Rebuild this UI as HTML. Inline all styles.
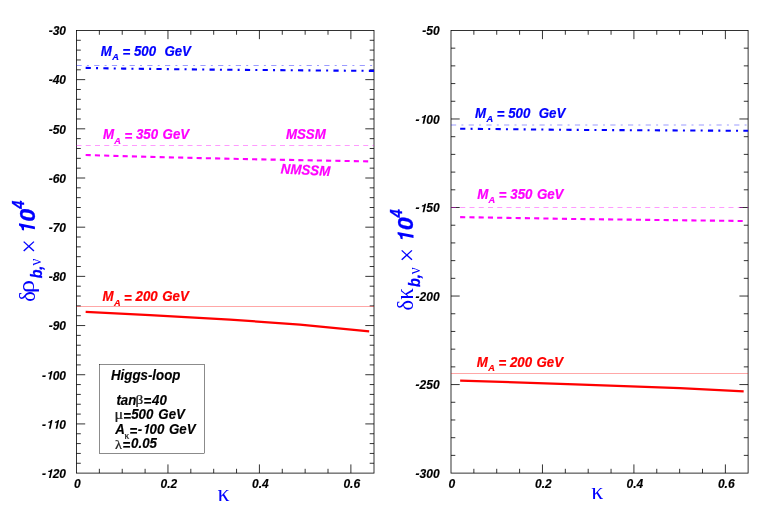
<!DOCTYPE html>
<html><head><meta charset="utf-8"><title>chart</title>
<style>
html,body{margin:0;padding:0;background:#fff;}
svg{display:block;will-change:transform;}
text{font-family:"Liberation Sans",sans-serif;}
.tk{font-size:12px;font-weight:bold;font-style:italic;fill:#000;stroke:#000;stroke-width:0.15px;}
.lb{font-size:13.3px;font-weight:bold;font-style:italic;}
.lb text{font-size:13.3px;font-weight:bold;font-style:italic;}
.bi{font-weight:bold;font-style:italic;}
.sy{font-family:"Liberation Serif",serif;font-weight:normal;font-style:normal;}
</style></head>
<body>
<svg width="763" height="516" viewBox="0 0 763 516">
<rect width="763" height="516" fill="#fff"/>
<defs>
<clipPath id="c1"><rect x="76.5" y="30.45" width="297.5" height="442.65000000000003"/></clipPath>
<clipPath id="c2"><rect x="451.0" y="30.45" width="297.1" height="442.65000000000003"/></clipPath>
</defs>
<g shape-rendering="auto">
<rect x="76.50" y="30.45" width="297.50" height="442.65" fill="none" stroke="#000" stroke-width="0.8"/>
<text class="tk" x="77.40" y="487.6" text-anchor="middle">0</text>
<line x1="99.37" y1="30.45" x2="99.37" y2="34.75" stroke="#000" stroke-width="0.8" />
<line x1="99.37" y1="473.10" x2="99.37" y2="468.80" stroke="#000" stroke-width="0.8" />
<line x1="122.23" y1="30.45" x2="122.23" y2="34.75" stroke="#000" stroke-width="0.8" />
<line x1="122.23" y1="473.10" x2="122.23" y2="468.80" stroke="#000" stroke-width="0.8" />
<line x1="145.10" y1="30.45" x2="145.10" y2="34.75" stroke="#000" stroke-width="0.8" />
<line x1="145.10" y1="473.10" x2="145.10" y2="468.80" stroke="#000" stroke-width="0.8" />
<line x1="167.96" y1="30.45" x2="167.96" y2="39.15" stroke="#000" stroke-width="0.8" />
<line x1="167.96" y1="473.10" x2="167.96" y2="464.40" stroke="#000" stroke-width="0.8" />
<text class="tk" x="168.86" y="487.6" text-anchor="middle">0.2</text>
<line x1="190.82" y1="30.45" x2="190.82" y2="34.75" stroke="#000" stroke-width="0.8" />
<line x1="190.82" y1="473.10" x2="190.82" y2="468.80" stroke="#000" stroke-width="0.8" />
<line x1="213.69" y1="30.45" x2="213.69" y2="34.75" stroke="#000" stroke-width="0.8" />
<line x1="213.69" y1="473.10" x2="213.69" y2="468.80" stroke="#000" stroke-width="0.8" />
<line x1="236.56" y1="30.45" x2="236.56" y2="34.75" stroke="#000" stroke-width="0.8" />
<line x1="236.56" y1="473.10" x2="236.56" y2="468.80" stroke="#000" stroke-width="0.8" />
<line x1="259.42" y1="30.45" x2="259.42" y2="39.15" stroke="#000" stroke-width="0.8" />
<line x1="259.42" y1="473.10" x2="259.42" y2="464.40" stroke="#000" stroke-width="0.8" />
<text class="tk" x="260.32" y="487.6" text-anchor="middle">0.4</text>
<line x1="282.28" y1="30.45" x2="282.28" y2="34.75" stroke="#000" stroke-width="0.8" />
<line x1="282.28" y1="473.10" x2="282.28" y2="468.80" stroke="#000" stroke-width="0.8" />
<line x1="305.15" y1="30.45" x2="305.15" y2="34.75" stroke="#000" stroke-width="0.8" />
<line x1="305.15" y1="473.10" x2="305.15" y2="468.80" stroke="#000" stroke-width="0.8" />
<line x1="328.01" y1="30.45" x2="328.01" y2="34.75" stroke="#000" stroke-width="0.8" />
<line x1="328.01" y1="473.10" x2="328.01" y2="468.80" stroke="#000" stroke-width="0.8" />
<line x1="350.88" y1="30.45" x2="350.88" y2="39.15" stroke="#000" stroke-width="0.8" />
<line x1="350.88" y1="473.10" x2="350.88" y2="464.40" stroke="#000" stroke-width="0.8" />
<text class="tk" x="351.78" y="487.6" text-anchor="middle">0.6</text>
<text class="tk" x="66.00" y="35.25" text-anchor="end">-30</text>
<line x1="76.50" y1="40.29" x2="80.80" y2="40.29" stroke="#000" stroke-width="0.8" />
<line x1="374.00" y1="40.29" x2="369.70" y2="40.29" stroke="#000" stroke-width="0.8" />
<line x1="76.50" y1="50.12" x2="80.80" y2="50.12" stroke="#000" stroke-width="0.8" />
<line x1="374.00" y1="50.12" x2="369.70" y2="50.12" stroke="#000" stroke-width="0.8" />
<line x1="76.50" y1="59.96" x2="80.80" y2="59.96" stroke="#000" stroke-width="0.8" />
<line x1="374.00" y1="59.96" x2="369.70" y2="59.96" stroke="#000" stroke-width="0.8" />
<line x1="76.50" y1="69.80" x2="80.80" y2="69.80" stroke="#000" stroke-width="0.8" />
<line x1="374.00" y1="69.80" x2="369.70" y2="69.80" stroke="#000" stroke-width="0.8" />
<line x1="76.50" y1="79.63" x2="85.20" y2="79.63" stroke="#000" stroke-width="0.8" />
<line x1="374.00" y1="79.63" x2="365.30" y2="79.63" stroke="#000" stroke-width="0.8" />
<text class="tk" x="66.00" y="84.43" text-anchor="end">-40</text>
<line x1="76.50" y1="89.47" x2="80.80" y2="89.47" stroke="#000" stroke-width="0.8" />
<line x1="374.00" y1="89.47" x2="369.70" y2="89.47" stroke="#000" stroke-width="0.8" />
<line x1="76.50" y1="99.31" x2="80.80" y2="99.31" stroke="#000" stroke-width="0.8" />
<line x1="374.00" y1="99.31" x2="369.70" y2="99.31" stroke="#000" stroke-width="0.8" />
<line x1="76.50" y1="109.14" x2="80.80" y2="109.14" stroke="#000" stroke-width="0.8" />
<line x1="374.00" y1="109.14" x2="369.70" y2="109.14" stroke="#000" stroke-width="0.8" />
<line x1="76.50" y1="118.98" x2="80.80" y2="118.98" stroke="#000" stroke-width="0.8" />
<line x1="374.00" y1="118.98" x2="369.70" y2="118.98" stroke="#000" stroke-width="0.8" />
<line x1="76.50" y1="128.82" x2="85.20" y2="128.82" stroke="#000" stroke-width="0.8" />
<line x1="374.00" y1="128.82" x2="365.30" y2="128.82" stroke="#000" stroke-width="0.8" />
<text class="tk" x="66.00" y="133.62" text-anchor="end">-50</text>
<line x1="76.50" y1="138.65" x2="80.80" y2="138.65" stroke="#000" stroke-width="0.8" />
<line x1="374.00" y1="138.65" x2="369.70" y2="138.65" stroke="#000" stroke-width="0.8" />
<line x1="76.50" y1="148.49" x2="80.80" y2="148.49" stroke="#000" stroke-width="0.8" />
<line x1="374.00" y1="148.49" x2="369.70" y2="148.49" stroke="#000" stroke-width="0.8" />
<line x1="76.50" y1="158.33" x2="80.80" y2="158.33" stroke="#000" stroke-width="0.8" />
<line x1="374.00" y1="158.33" x2="369.70" y2="158.33" stroke="#000" stroke-width="0.8" />
<line x1="76.50" y1="168.16" x2="80.80" y2="168.16" stroke="#000" stroke-width="0.8" />
<line x1="374.00" y1="168.16" x2="369.70" y2="168.16" stroke="#000" stroke-width="0.8" />
<line x1="76.50" y1="178.00" x2="85.20" y2="178.00" stroke="#000" stroke-width="0.8" />
<line x1="374.00" y1="178.00" x2="365.30" y2="178.00" stroke="#000" stroke-width="0.8" />
<text class="tk" x="66.00" y="182.80" text-anchor="end">-60</text>
<line x1="76.50" y1="187.84" x2="80.80" y2="187.84" stroke="#000" stroke-width="0.8" />
<line x1="374.00" y1="187.84" x2="369.70" y2="187.84" stroke="#000" stroke-width="0.8" />
<line x1="76.50" y1="197.67" x2="80.80" y2="197.67" stroke="#000" stroke-width="0.8" />
<line x1="374.00" y1="197.67" x2="369.70" y2="197.67" stroke="#000" stroke-width="0.8" />
<line x1="76.50" y1="207.51" x2="80.80" y2="207.51" stroke="#000" stroke-width="0.8" />
<line x1="374.00" y1="207.51" x2="369.70" y2="207.51" stroke="#000" stroke-width="0.8" />
<line x1="76.50" y1="217.35" x2="80.80" y2="217.35" stroke="#000" stroke-width="0.8" />
<line x1="374.00" y1="217.35" x2="369.70" y2="217.35" stroke="#000" stroke-width="0.8" />
<line x1="76.50" y1="227.18" x2="85.20" y2="227.18" stroke="#000" stroke-width="0.8" />
<line x1="374.00" y1="227.18" x2="365.30" y2="227.18" stroke="#000" stroke-width="0.8" />
<text class="tk" x="66.00" y="231.98" text-anchor="end">-70</text>
<line x1="76.50" y1="237.02" x2="80.80" y2="237.02" stroke="#000" stroke-width="0.8" />
<line x1="374.00" y1="237.02" x2="369.70" y2="237.02" stroke="#000" stroke-width="0.8" />
<line x1="76.50" y1="246.86" x2="80.80" y2="246.86" stroke="#000" stroke-width="0.8" />
<line x1="374.00" y1="246.86" x2="369.70" y2="246.86" stroke="#000" stroke-width="0.8" />
<line x1="76.50" y1="256.69" x2="80.80" y2="256.69" stroke="#000" stroke-width="0.8" />
<line x1="374.00" y1="256.69" x2="369.70" y2="256.69" stroke="#000" stroke-width="0.8" />
<line x1="76.50" y1="266.53" x2="80.80" y2="266.53" stroke="#000" stroke-width="0.8" />
<line x1="374.00" y1="266.53" x2="369.70" y2="266.53" stroke="#000" stroke-width="0.8" />
<line x1="76.50" y1="276.37" x2="85.20" y2="276.37" stroke="#000" stroke-width="0.8" />
<line x1="374.00" y1="276.37" x2="365.30" y2="276.37" stroke="#000" stroke-width="0.8" />
<text class="tk" x="66.00" y="281.17" text-anchor="end">-80</text>
<line x1="76.50" y1="286.20" x2="80.80" y2="286.20" stroke="#000" stroke-width="0.8" />
<line x1="374.00" y1="286.20" x2="369.70" y2="286.20" stroke="#000" stroke-width="0.8" />
<line x1="76.50" y1="296.04" x2="80.80" y2="296.04" stroke="#000" stroke-width="0.8" />
<line x1="374.00" y1="296.04" x2="369.70" y2="296.04" stroke="#000" stroke-width="0.8" />
<line x1="76.50" y1="305.88" x2="80.80" y2="305.88" stroke="#000" stroke-width="0.8" />
<line x1="374.00" y1="305.88" x2="369.70" y2="305.88" stroke="#000" stroke-width="0.8" />
<line x1="76.50" y1="315.71" x2="80.80" y2="315.71" stroke="#000" stroke-width="0.8" />
<line x1="374.00" y1="315.71" x2="369.70" y2="315.71" stroke="#000" stroke-width="0.8" />
<line x1="76.50" y1="325.55" x2="85.20" y2="325.55" stroke="#000" stroke-width="0.8" />
<line x1="374.00" y1="325.55" x2="365.30" y2="325.55" stroke="#000" stroke-width="0.8" />
<text class="tk" x="66.00" y="330.35" text-anchor="end">-90</text>
<line x1="76.50" y1="335.39" x2="80.80" y2="335.39" stroke="#000" stroke-width="0.8" />
<line x1="374.00" y1="335.39" x2="369.70" y2="335.39" stroke="#000" stroke-width="0.8" />
<line x1="76.50" y1="345.22" x2="80.80" y2="345.22" stroke="#000" stroke-width="0.8" />
<line x1="374.00" y1="345.22" x2="369.70" y2="345.22" stroke="#000" stroke-width="0.8" />
<line x1="76.50" y1="355.06" x2="80.80" y2="355.06" stroke="#000" stroke-width="0.8" />
<line x1="374.00" y1="355.06" x2="369.70" y2="355.06" stroke="#000" stroke-width="0.8" />
<line x1="76.50" y1="364.90" x2="80.80" y2="364.90" stroke="#000" stroke-width="0.8" />
<line x1="374.00" y1="364.90" x2="369.70" y2="364.90" stroke="#000" stroke-width="0.8" />
<line x1="76.50" y1="374.73" x2="85.20" y2="374.73" stroke="#000" stroke-width="0.8" />
<line x1="374.00" y1="374.73" x2="365.30" y2="374.73" stroke="#000" stroke-width="0.8" />
<text class="tk" x="41.99" y="379.53">-</text>
<path d="M48.93,379.58 L50.65,379.58 L52.52,370.88 L51.14,370.88 C50.76,371.97 49.79,372.44 48.41,372.48 L48.16,373.63 L50.21,373.63 Z" fill="#000"/>
<text class="tk" x="52.66" y="379.53">0</text>
<text class="tk" x="59.33" y="379.53">0</text>
<line x1="76.50" y1="384.57" x2="80.80" y2="384.57" stroke="#000" stroke-width="0.8" />
<line x1="374.00" y1="384.57" x2="369.70" y2="384.57" stroke="#000" stroke-width="0.8" />
<line x1="76.50" y1="394.41" x2="80.80" y2="394.41" stroke="#000" stroke-width="0.8" />
<line x1="374.00" y1="394.41" x2="369.70" y2="394.41" stroke="#000" stroke-width="0.8" />
<line x1="76.50" y1="404.24" x2="80.80" y2="404.24" stroke="#000" stroke-width="0.8" />
<line x1="374.00" y1="404.24" x2="369.70" y2="404.24" stroke="#000" stroke-width="0.8" />
<line x1="76.50" y1="414.08" x2="80.80" y2="414.08" stroke="#000" stroke-width="0.8" />
<line x1="374.00" y1="414.08" x2="369.70" y2="414.08" stroke="#000" stroke-width="0.8" />
<line x1="76.50" y1="423.92" x2="85.20" y2="423.92" stroke="#000" stroke-width="0.8" />
<line x1="374.00" y1="423.92" x2="365.30" y2="423.92" stroke="#000" stroke-width="0.8" />
<text class="tk" x="41.99" y="428.72">-</text>
<path d="M48.93,428.77 L50.65,428.77 L52.52,420.06 L51.14,420.06 C50.76,421.15 49.79,421.62 48.41,421.67 L48.16,422.81 L50.21,422.81 Z" fill="#000"/>
<path d="M55.60,428.77 L57.32,428.77 L59.19,420.06 L57.81,420.06 C57.43,421.15 56.46,421.62 55.08,421.67 L54.83,422.81 L56.88,422.81 Z" fill="#000"/>
<text class="tk" x="59.33" y="428.72">0</text>
<line x1="76.50" y1="433.75" x2="80.80" y2="433.75" stroke="#000" stroke-width="0.8" />
<line x1="374.00" y1="433.75" x2="369.70" y2="433.75" stroke="#000" stroke-width="0.8" />
<line x1="76.50" y1="443.59" x2="80.80" y2="443.59" stroke="#000" stroke-width="0.8" />
<line x1="374.00" y1="443.59" x2="369.70" y2="443.59" stroke="#000" stroke-width="0.8" />
<line x1="76.50" y1="453.43" x2="80.80" y2="453.43" stroke="#000" stroke-width="0.8" />
<line x1="374.00" y1="453.43" x2="369.70" y2="453.43" stroke="#000" stroke-width="0.8" />
<line x1="76.50" y1="463.26" x2="80.80" y2="463.26" stroke="#000" stroke-width="0.8" />
<line x1="374.00" y1="463.26" x2="369.70" y2="463.26" stroke="#000" stroke-width="0.8" />
<text class="tk" x="41.99" y="477.90">-</text>
<path d="M48.93,477.95 L50.65,477.95 L52.52,469.24 L51.14,469.24 C50.76,470.34 49.79,470.80 48.41,470.85 L48.16,471.99 L50.21,471.99 Z" fill="#000"/>
<text class="tk" x="52.66" y="477.90">2</text>
<text class="tk" x="59.33" y="477.90">0</text>
<rect x="451.00" y="30.45" width="297.10" height="442.65" fill="none" stroke="#000" stroke-width="0.8"/>
<text class="tk" x="451.90" y="487.6" text-anchor="middle">0</text>
<line x1="473.87" y1="30.45" x2="473.87" y2="34.75" stroke="#000" stroke-width="0.8" />
<line x1="473.87" y1="473.10" x2="473.87" y2="468.80" stroke="#000" stroke-width="0.8" />
<line x1="496.73" y1="30.45" x2="496.73" y2="34.75" stroke="#000" stroke-width="0.8" />
<line x1="496.73" y1="473.10" x2="496.73" y2="468.80" stroke="#000" stroke-width="0.8" />
<line x1="519.60" y1="30.45" x2="519.60" y2="34.75" stroke="#000" stroke-width="0.8" />
<line x1="519.60" y1="473.10" x2="519.60" y2="468.80" stroke="#000" stroke-width="0.8" />
<line x1="542.46" y1="30.45" x2="542.46" y2="39.15" stroke="#000" stroke-width="0.8" />
<line x1="542.46" y1="473.10" x2="542.46" y2="464.40" stroke="#000" stroke-width="0.8" />
<text class="tk" x="543.36" y="487.6" text-anchor="middle">0.2</text>
<line x1="565.33" y1="30.45" x2="565.33" y2="34.75" stroke="#000" stroke-width="0.8" />
<line x1="565.33" y1="473.10" x2="565.33" y2="468.80" stroke="#000" stroke-width="0.8" />
<line x1="588.19" y1="30.45" x2="588.19" y2="34.75" stroke="#000" stroke-width="0.8" />
<line x1="588.19" y1="473.10" x2="588.19" y2="468.80" stroke="#000" stroke-width="0.8" />
<line x1="611.06" y1="30.45" x2="611.06" y2="34.75" stroke="#000" stroke-width="0.8" />
<line x1="611.06" y1="473.10" x2="611.06" y2="468.80" stroke="#000" stroke-width="0.8" />
<line x1="633.92" y1="30.45" x2="633.92" y2="39.15" stroke="#000" stroke-width="0.8" />
<line x1="633.92" y1="473.10" x2="633.92" y2="464.40" stroke="#000" stroke-width="0.8" />
<text class="tk" x="634.82" y="487.6" text-anchor="middle">0.4</text>
<line x1="656.78" y1="30.45" x2="656.78" y2="34.75" stroke="#000" stroke-width="0.8" />
<line x1="656.78" y1="473.10" x2="656.78" y2="468.80" stroke="#000" stroke-width="0.8" />
<line x1="679.65" y1="30.45" x2="679.65" y2="34.75" stroke="#000" stroke-width="0.8" />
<line x1="679.65" y1="473.10" x2="679.65" y2="468.80" stroke="#000" stroke-width="0.8" />
<line x1="702.51" y1="30.45" x2="702.51" y2="34.75" stroke="#000" stroke-width="0.8" />
<line x1="702.51" y1="473.10" x2="702.51" y2="468.80" stroke="#000" stroke-width="0.8" />
<line x1="725.38" y1="30.45" x2="725.38" y2="39.15" stroke="#000" stroke-width="0.8" />
<line x1="725.38" y1="473.10" x2="725.38" y2="464.40" stroke="#000" stroke-width="0.8" />
<text class="tk" x="726.28" y="487.6" text-anchor="middle">0.6</text>
<text class="tk" x="439.60" y="35.25" text-anchor="end">-50</text>
<line x1="451.00" y1="48.16" x2="455.30" y2="48.16" stroke="#000" stroke-width="0.8" />
<line x1="748.10" y1="48.16" x2="743.80" y2="48.16" stroke="#000" stroke-width="0.8" />
<line x1="451.00" y1="65.86" x2="455.30" y2="65.86" stroke="#000" stroke-width="0.8" />
<line x1="748.10" y1="65.86" x2="743.80" y2="65.86" stroke="#000" stroke-width="0.8" />
<line x1="451.00" y1="83.57" x2="455.30" y2="83.57" stroke="#000" stroke-width="0.8" />
<line x1="748.10" y1="83.57" x2="743.80" y2="83.57" stroke="#000" stroke-width="0.8" />
<line x1="451.00" y1="101.27" x2="455.30" y2="101.27" stroke="#000" stroke-width="0.8" />
<line x1="748.10" y1="101.27" x2="743.80" y2="101.27" stroke="#000" stroke-width="0.8" />
<line x1="451.00" y1="118.98" x2="459.70" y2="118.98" stroke="#000" stroke-width="0.8" />
<line x1="748.10" y1="118.98" x2="739.40" y2="118.98" stroke="#000" stroke-width="0.8" />
<text class="tk" x="415.59" y="123.78">-</text>
<path d="M422.53,123.83 L424.25,123.83 L426.12,115.12 L424.74,115.12 C424.36,116.22 423.39,116.68 422.01,116.73 L421.76,117.87 L423.81,117.87 Z" fill="#000"/>
<text class="tk" x="426.26" y="123.78">0</text>
<text class="tk" x="432.93" y="123.78">0</text>
<line x1="451.00" y1="136.69" x2="455.30" y2="136.69" stroke="#000" stroke-width="0.8" />
<line x1="748.10" y1="136.69" x2="743.80" y2="136.69" stroke="#000" stroke-width="0.8" />
<line x1="451.00" y1="154.39" x2="455.30" y2="154.39" stroke="#000" stroke-width="0.8" />
<line x1="748.10" y1="154.39" x2="743.80" y2="154.39" stroke="#000" stroke-width="0.8" />
<line x1="451.00" y1="172.10" x2="455.30" y2="172.10" stroke="#000" stroke-width="0.8" />
<line x1="748.10" y1="172.10" x2="743.80" y2="172.10" stroke="#000" stroke-width="0.8" />
<line x1="451.00" y1="189.80" x2="455.30" y2="189.80" stroke="#000" stroke-width="0.8" />
<line x1="748.10" y1="189.80" x2="743.80" y2="189.80" stroke="#000" stroke-width="0.8" />
<line x1="451.00" y1="207.51" x2="459.70" y2="207.51" stroke="#000" stroke-width="0.8" />
<line x1="748.10" y1="207.51" x2="739.40" y2="207.51" stroke="#000" stroke-width="0.8" />
<text class="tk" x="415.59" y="212.31">-</text>
<path d="M422.53,212.36 L424.25,212.36 L426.12,203.65 L424.74,203.65 C424.36,204.75 423.39,205.21 422.01,205.26 L421.76,206.40 L423.81,206.40 Z" fill="#000"/>
<text class="tk" x="426.26" y="212.31">5</text>
<text class="tk" x="432.93" y="212.31">0</text>
<line x1="451.00" y1="225.22" x2="455.30" y2="225.22" stroke="#000" stroke-width="0.8" />
<line x1="748.10" y1="225.22" x2="743.80" y2="225.22" stroke="#000" stroke-width="0.8" />
<line x1="451.00" y1="242.92" x2="455.30" y2="242.92" stroke="#000" stroke-width="0.8" />
<line x1="748.10" y1="242.92" x2="743.80" y2="242.92" stroke="#000" stroke-width="0.8" />
<line x1="451.00" y1="260.63" x2="455.30" y2="260.63" stroke="#000" stroke-width="0.8" />
<line x1="748.10" y1="260.63" x2="743.80" y2="260.63" stroke="#000" stroke-width="0.8" />
<line x1="451.00" y1="278.33" x2="455.30" y2="278.33" stroke="#000" stroke-width="0.8" />
<line x1="748.10" y1="278.33" x2="743.80" y2="278.33" stroke="#000" stroke-width="0.8" />
<line x1="451.00" y1="296.04" x2="459.70" y2="296.04" stroke="#000" stroke-width="0.8" />
<line x1="748.10" y1="296.04" x2="739.40" y2="296.04" stroke="#000" stroke-width="0.8" />
<text class="tk" x="439.60" y="300.84" text-anchor="end">-200</text>
<line x1="451.00" y1="313.75" x2="455.30" y2="313.75" stroke="#000" stroke-width="0.8" />
<line x1="748.10" y1="313.75" x2="743.80" y2="313.75" stroke="#000" stroke-width="0.8" />
<line x1="451.00" y1="331.45" x2="455.30" y2="331.45" stroke="#000" stroke-width="0.8" />
<line x1="748.10" y1="331.45" x2="743.80" y2="331.45" stroke="#000" stroke-width="0.8" />
<line x1="451.00" y1="349.16" x2="455.30" y2="349.16" stroke="#000" stroke-width="0.8" />
<line x1="748.10" y1="349.16" x2="743.80" y2="349.16" stroke="#000" stroke-width="0.8" />
<line x1="451.00" y1="366.86" x2="455.30" y2="366.86" stroke="#000" stroke-width="0.8" />
<line x1="748.10" y1="366.86" x2="743.80" y2="366.86" stroke="#000" stroke-width="0.8" />
<line x1="451.00" y1="384.57" x2="459.70" y2="384.57" stroke="#000" stroke-width="0.8" />
<line x1="748.10" y1="384.57" x2="739.40" y2="384.57" stroke="#000" stroke-width="0.8" />
<text class="tk" x="439.60" y="389.37" text-anchor="end">-250</text>
<line x1="451.00" y1="402.28" x2="455.30" y2="402.28" stroke="#000" stroke-width="0.8" />
<line x1="748.10" y1="402.28" x2="743.80" y2="402.28" stroke="#000" stroke-width="0.8" />
<line x1="451.00" y1="419.98" x2="455.30" y2="419.98" stroke="#000" stroke-width="0.8" />
<line x1="748.10" y1="419.98" x2="743.80" y2="419.98" stroke="#000" stroke-width="0.8" />
<line x1="451.00" y1="437.69" x2="455.30" y2="437.69" stroke="#000" stroke-width="0.8" />
<line x1="748.10" y1="437.69" x2="743.80" y2="437.69" stroke="#000" stroke-width="0.8" />
<line x1="451.00" y1="455.39" x2="455.30" y2="455.39" stroke="#000" stroke-width="0.8" />
<line x1="748.10" y1="455.39" x2="743.80" y2="455.39" stroke="#000" stroke-width="0.8" />
<text class="tk" x="439.60" y="477.90" text-anchor="end">-300</text>
</g>
<path d="M76.50,65.50 L374.00,65.50" fill="none" stroke="#0000ff" stroke-width="0.4" stroke-dasharray="5.2 5.2 2.0 5.3"/>
<path d="M76.50,145.50 L374.00,145.50" fill="none" stroke="#ff00ff" stroke-width="0.4" stroke-dasharray="5.0 4.25"/>
<path d="M76.50,306.50 L374.00,306.50" fill="none" stroke="#ff0000" stroke-width="0.35"/>
<path d="M85.65,67.90 L123.00,68.60 L220.00,69.70 L374.00,70.90" fill="none" stroke="#0000ff" stroke-width="2.1" stroke-dasharray="5.2 5.2 2.0 5.3"/>
<path d="M85.65,155.00 L146.00,156.80 L250.00,159.20 L369.17,161.40" fill="none" stroke="#ff00ff" stroke-width="2.1" stroke-dasharray="5.1 4.15"/>
<path d="M85.65,311.80 L150.00,315.20 L230.00,319.60 L300.00,324.60 L369.17,331.40" fill="none" stroke="#ff0000" stroke-width="2.2"/>
<path d="M451.00,125.00 L748.10,125.00" fill="none" stroke="#0000ff" stroke-width="0.4" stroke-dasharray="5.2 5.2 2.0 5.3"/>
<path d="M451.00,207.50 L748.10,207.50" fill="none" stroke="#ff00ff" stroke-width="0.4" stroke-dasharray="5.0 4.25"/>
<path d="M451.00,373.50 L748.10,373.50" fill="none" stroke="#ff0000" stroke-width="0.35"/>
<path d="M460.15,128.70 L575.00,129.90 L748.10,130.80" fill="none" stroke="#0000ff" stroke-width="2.1" stroke-dasharray="5.2 5.2 2.0 5.3"/>
<path d="M460.15,217.10 L575.00,219.00 L743.67,221.00" fill="none" stroke="#ff00ff" stroke-width="2.1" stroke-dasharray="5.1 4.15"/>
<path d="M460.15,380.60 L575.00,384.30 L680.00,388.10 L743.67,391.30" fill="none" stroke="#ff0000" stroke-width="2.2"/>
<g fill="#0000ff" stroke="#0000ff" stroke-width="0.2" class="lb" transform="translate(100.80 55.50) scale(1 1.06)"><text x="0" y="0">M</text><text x="11.4" y="4.1" style="font-size:9.2px">A</text><text x="21.6" y="1.4">=</text><text x="33.1" y="0">500</text><text x="63.60" y="0">GeV</text></g>
<g fill="#ff00ff" stroke="#ff00ff" stroke-width="0.2" class="lb" transform="translate(102.90 139.30) scale(1 1.06)"><text x="0" y="0">M</text><text x="11.4" y="4.1" style="font-size:9.2px">A</text><text x="21.6" y="1.4">=</text><text x="33.1" y="0">350</text><text x="59.70" y="0">GeV</text></g>
<g fill="#ff0000" stroke="#ff0000" stroke-width="0.2" class="lb" transform="translate(102.50 301.30) scale(1 1.06)"><text x="0" y="0">M</text><text x="11.4" y="4.1" style="font-size:9.2px">A</text><text x="21.6" y="1.4">=</text><text x="33.1" y="0">200</text><text x="59.70" y="0">GeV</text></g>
<g fill="#0000ff" stroke="#0000ff" stroke-width="0.2" class="lb" transform="translate(475.10 117.70) scale(1 1.06)"><text x="0" y="0">M</text><text x="11.4" y="4.1" style="font-size:9.2px">A</text><text x="21.6" y="1.4">=</text><text x="33.1" y="0">500</text><text x="63.60" y="0">GeV</text></g>
<g fill="#ff00ff" stroke="#ff00ff" stroke-width="0.2" class="lb" transform="translate(477.20 198.60) scale(1 1.06)"><text x="0" y="0">M</text><text x="11.4" y="4.1" style="font-size:9.2px">A</text><text x="21.6" y="1.4">=</text><text x="33.1" y="0">350</text><text x="59.70" y="0">GeV</text></g>
<g fill="#ff0000" stroke="#ff0000" stroke-width="0.2" class="lb" transform="translate(476.80 366.90) scale(1 1.06)"><text x="0" y="0">M</text><text x="11.4" y="4.1" style="font-size:9.2px">A</text><text x="21.6" y="1.4">=</text><text x="33.1" y="0">200</text><text x="59.70" y="0">GeV</text></g>
<text class="lb" fill="#ff00ff" stroke="#ff00ff" stroke-width="0.2" transform="translate(285.9 139.3) scale(1 1.06)">MSSM</text>
<text class="lb" fill="#ff00ff" stroke="#ff00ff" stroke-width="0.2" transform="translate(280.6 173.4) rotate(3) scale(1 1.06)">NMSSM</text>
<rect x="99.45" y="364.5" width="105.2" height="88.9" fill="#fff" stroke="#000" stroke-width="0.45"/>
<g>
<text class="lb" fill="#000" stroke="#000" stroke-width="0.15" transform="translate(111.00 380.10) scale(1 1.06)" style="font-size:13.3px">Higgs-loop</text>
<text class="lb" fill="#000" stroke="#000" stroke-width="0.15" transform="translate(116.45 404.70) scale(1 1.06)" style="font-size:13.3px">tan</text>
<text class="lb" fill="#000" stroke="#000" stroke-width="0.15" transform="translate(143.40 406.18) scale(1 1.06)" style="font-size:13.3px">=</text>
<text class="lb" fill="#000" stroke="#000" stroke-width="0.15" transform="translate(152.00 404.70) scale(1 1.06)" style="font-size:13.3px">40</text>
<g fill="#222" stroke="#222" stroke-width="0.25"><text class="sy" transform="translate(135.52 404.26) scale(1.180 1.000)" style="font-size:12.87px">β</text></g>
<text class="lb" fill="#000" stroke="#000" stroke-width="0.15" transform="translate(123.20 420.58) scale(1 1.06)" style="font-size:13.3px">=</text>
<text class="lb" fill="#000" stroke="#000" stroke-width="0.15" transform="translate(131.20 419.10) scale(1 1.06)" style="font-size:13.3px">500</text>
<text class="lb" fill="#000" stroke="#000" stroke-width="0.15" transform="translate(158.30 419.10) scale(1 1.06)" style="font-size:13.3px">GeV</text>
<g fill="#222" stroke="#222" stroke-width="0.25"><text class="sy" transform="translate(114.59 418.64) scale(1.171 1.000)" style="font-size:13.82px">μ</text></g>
<text class="lb" fill="#000" stroke="#000" stroke-width="0.15" transform="translate(115.30 433.70) scale(1 1.06)" style="font-size:13.3px">A</text>
<text class="lb" fill="#000" stroke="#000" stroke-width="0.15" transform="translate(129.50 436.03) scale(1 1.06)" style="font-size:13.3px">=</text>
<text class="lb" fill="#000" stroke="#000" stroke-width="0.15" transform="translate(137.70 434.12) scale(1 1.06)" style="font-size:13.3px">-</text>
<path d="M145.46,433.75 L147.38,433.75 L149.47,424.00 L147.93,424.00 C147.50,425.22 146.41,425.75 144.88,425.80 L144.60,427.08 L146.89,427.08 Z" fill="#000"/>
<text class="lb" fill="#000" stroke="#000" stroke-width="0.15" transform="translate(149.60 433.70) scale(1 1.06)" style="font-size:13.3px">00</text>
<text class="lb" fill="#000" stroke="#000" stroke-width="0.15" transform="translate(169.00 433.70) scale(1 1.06)" style="font-size:13.3px">GeV</text>
<g fill="#222" stroke="#222" stroke-width="0.25"><text class="sy" transform="translate(124.52 438.60) scale(1.019 1.000)" style="font-size:9.37px">κ</text></g>
<text class="lb" fill="#000" stroke="#000" stroke-width="0.15" transform="translate(122.40 450.31) scale(1 1.06)" style="font-size:13.3px">=</text>
<text class="lb" fill="#000" stroke="#000" stroke-width="0.15" transform="translate(131.10 448.30) scale(1 1.06)" style="font-size:13.3px">0.05</text>
<g fill="#222" stroke="#222" stroke-width="0.25"><text class="sy" transform="translate(115.12 448.50) scale(1.063 1.000)" style="font-size:13.49px">λ</text></g>
</g>
<text class="sy" fill="#0000ff" x="217.6" y="500.9" style="font-size:24px">κ</text>
<text class="sy" fill="#0000ff" x="591.3" y="499.1" style="font-size:24px">κ</text>
<g transform="translate(35.00 301.20) rotate(-90)" fill="#0000ff">
<text class="sy" transform="translate(-0.64 -0.13) scale(0.937 1.000)" style="font-size:23.71px">δ</text>
<text class="sy" transform="translate(7.97 -0.76) scale(1.154 1.000)" style="font-size:23.31px">ρ</text>
<text class="bi" stroke-width="0.3" stroke="#0000ff" transform="translate(22.95 6.75) scale(0.908 1.000)" style="font-size:15.80px">b</text>
<text class="bi" stroke-width="0.3" stroke="#0000ff" transform="translate(31.54 6.66) scale(0.947 1.000)" style="font-size:15.15px">,</text>
<text class="sy" transform="translate(35.76 6.44) scale(0.905 1.000)" style="font-size:16.85px">ν</text>
<text class="sy" transform="translate(47.70 2.62) scale(0.955 1.000)" style="font-size:26.52px">×</text>
<path d="M71.97,-0.10 L74.80,-0.10 L77.90,-16.00 L75.62,-16.00 C74.99,-14.00 73.38,-13.15 71.11,-13.06 L70.70,-10.98 L74.09,-10.98 Z" fill="#0000ff"/>
<text class="bi" stroke-width="0.3" stroke="#0000ff" transform="translate(79.54 -0.12) scale(1.038 1.000)" style="font-size:22.32px">0</text>
<text class="bi" stroke-width="0.3" stroke="#0000ff" transform="translate(92.34 -11.20) scale(0.923 1.000)" style="font-size:15.99px">4</text>
</g>
<g transform="translate(413.60 309.90) rotate(-90)" fill="#0000ff">
<text class="sy" transform="translate(-0.64 -0.13) scale(0.937 1.000)" style="font-size:23.71px">δ</text>
<text class="sy" transform="translate(10.06 -0.20) scale(0.948 1.000)" style="font-size:24.40px">κ</text>
<text class="bi" stroke-width="0.3" stroke="#0000ff" transform="translate(22.95 6.75) scale(0.908 1.000)" style="font-size:15.80px">b</text>
<text class="bi" stroke-width="0.3" stroke="#0000ff" transform="translate(31.54 6.66) scale(0.947 1.000)" style="font-size:15.15px">,</text>
<text class="sy" transform="translate(35.76 6.44) scale(0.905 1.000)" style="font-size:16.85px">ν</text>
<text class="sy" transform="translate(47.70 2.62) scale(0.955 1.000)" style="font-size:26.52px">×</text>
<path d="M71.97,-0.10 L74.80,-0.10 L77.90,-16.00 L75.62,-16.00 C74.99,-14.00 73.38,-13.15 71.11,-13.06 L70.70,-10.98 L74.09,-10.98 Z" fill="#0000ff"/>
<text class="bi" stroke-width="0.3" stroke="#0000ff" transform="translate(79.54 -0.12) scale(1.038 1.000)" style="font-size:22.32px">0</text>
<text class="bi" stroke-width="0.3" stroke="#0000ff" transform="translate(92.34 -11.20) scale(0.923 1.000)" style="font-size:15.99px">4</text>
</g>
</svg>
</body></html>
